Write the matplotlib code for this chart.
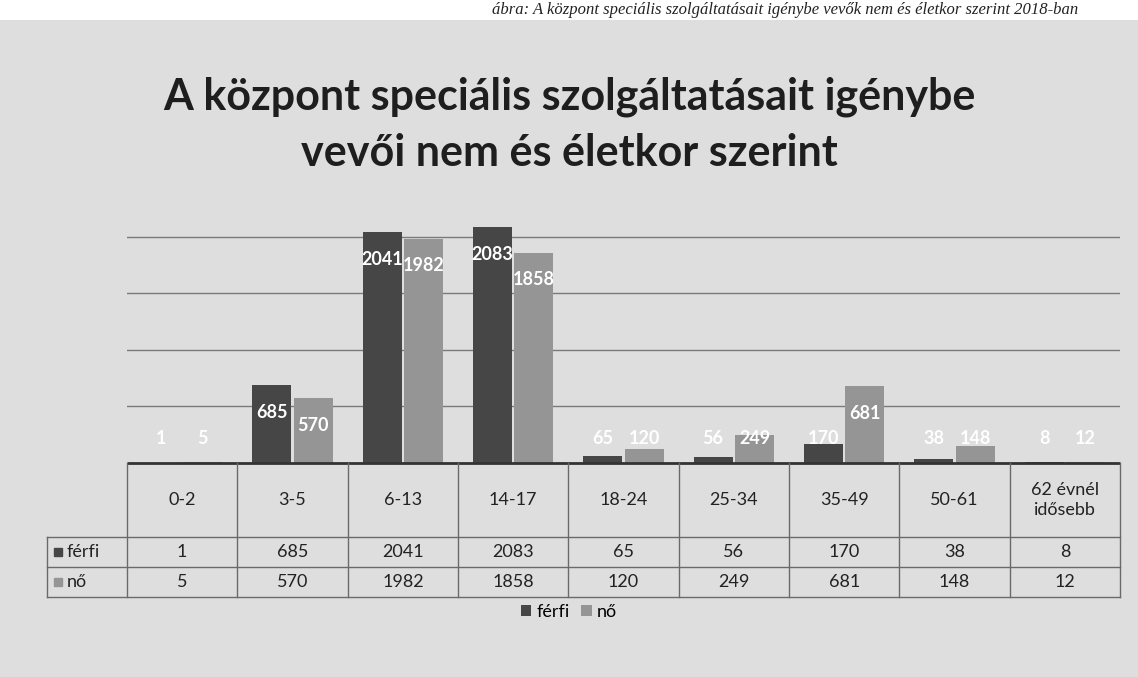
import numpy as np
import matplotlib
matplotlib.use('Agg')
import matplotlib.pyplot as plt
from matplotlib.patches import Patch, Rectangle

categories = ['0-2', '3-5', '6-13', '14-17', '18-24', '25-34', '35-49', '50-61',
              '62 évnél\nidősebb']
ferfi = [1, 685, 2041, 2083, 65, 56, 170, 38, 8]
no = [5, 570, 1982, 1858, 120, 249, 681, 148, 12]
series_names = ['férfi', 'nő']

title = 'A központ speciális szolgáltatásait igénybe\nvevői nem és életkor szerint'
caption = 'ábra: A központ speciális szolgáltatásait igénybe vevők nem és életkor szerint 2018-ban'

W, H = 1138, 677
BG = '#dedede'
C_F = '#464646'
C_N = '#959595'
LINE = '#6a6a6a'
FONT = 'Lato'

fig = plt.figure(figsize=(W / 100, H / 100), dpi=100)
fig.patch.set_facecolor('white')
fig.add_artist(Rectangle((0, 0), 1, (H - 20) / H, transform=fig.transFigure,
                         facecolor=BG, edgecolor='none', zorder=0))

# caption from the scanned page (cut off in the original)
fig.text(1078 / W, 1 - 2 / H, caption, ha='right', va='top',
         fontsize=12, style='italic', family='Liberation Serif', color='#222222')

fig.text(0.5, 1 - 97 / H, title.split('\n')[0], ha='center', va='center',
         fontsize=31, fontweight='bold', family=FONT, color='#1e1e1e')
fig.text(0.5, 1 - 153 / H, title.split('\n')[1], ha='center', va='center',
         fontsize=31, fontweight='bold', family=FONT, color='#1e1e1e')

# plot area
x0, x1 = 127, 1120
y_base, y_top = 463, 180
ax = fig.add_axes([x0 / W, (H - y_base) / H, (x1 - x0) / W, (y_base - y_top) / H])
ax.set_facecolor('none')
ax.set_xlim(-0.5, len(categories) - 0.5)
ax.set_ylim(0, 2500)
for s in ax.spines.values():
    s.set_visible(False)
ax.set_xticks([])
ax.set_yticks([500, 1000, 1500, 2000])
ax.tick_params(left=False, labelleft=False)
ax.grid(axis='y', color='#7a7a7a', lw=1)
ax.set_axisbelow(True)

x = np.arange(len(categories))
bw = 0.355
ax.bar(x - bw / 2 - 0.01, ferfi, bw, color=C_F, zorder=2)
ax.bar(x + bw / 2 + 0.01, no, bw, color=C_N, zorder=2)

for vals, dx in ((ferfi, -bw / 2 - 0.01), (no, bw / 2 + 0.01)):
    for xi, v in zip(x, vals):
        yl = max(v - 240, 220)
        ax.text(xi + dx, yl, str(v), ha='center', va='center', color='white',
                fontsize=13, fontweight='bold', family=FONT, zorder=3)

# data table
tl = 47
t_top, t_hdr, t_r1, t_bot = 463, 537, 567, 597
tab = fig.add_axes([tl / W, (H - t_bot) / H, (x1 - tl) / W, (t_bot - t_top) / H])
tab.set_facecolor('none')
step = (x1 - x0) / len(categories)
tab.set_xlim(-0.5 - (x0 - tl) / step, len(categories) - 0.5)
tab.set_ylim(t_bot, t_top)
tab.axis('off')

tab.plot([-0.5, len(categories) - 0.5], [t_top, t_top], color='#333333', lw=2,
         solid_capstyle='butt', clip_on=False)
for i in range(len(categories) + 1):
    tab.plot([i - 0.5, i - 0.5], [t_top, t_bot], color=LINE, lw=1, clip_on=False)
left = -0.5 - (x0 - tl) / step
tab.plot([left, left], [t_hdr, t_bot], color=LINE, lw=1, clip_on=False)
for yy in (t_hdr, t_r1, t_bot):
    tab.plot([left, len(categories) - 0.5], [yy, yy], color=LINE, lw=1, clip_on=False)

for xi, c in zip(x, categories):
    tab.text(xi, (t_top + t_hdr) / 2, c, ha='center', va='center', fontsize=13,
             family=FONT, color='#222222', linespacing=1.25)
for yy, vals in (((t_hdr + t_r1) / 2, ferfi), ((t_r1 + t_bot) / 2, no)):
    for xi, v in zip(x, vals):
        tab.text(xi, yy, str(v), ha='center', va='center', fontsize=13,
                 family=FONT, color='#222222')

for yy, name, col in (((t_hdr + t_r1) / 2, series_names[0], C_F),
                      ((t_r1 + t_bot) / 2, series_names[1], C_N)):
    tab.plot([left + 0.1], [yy], marker='s', ms=6, color=col, clip_on=False)
    tab.text(left + 0.18, yy, name, ha='left', va='center', fontsize=13,
             family=FONT, color='#222222')

handles = [Patch(facecolor=C_F, label=series_names[0]),
           Patch(facecolor=C_N, label=series_names[1])]
fig.legend(handles=handles, loc='center', bbox_to_anchor=(0.5, (H - 612) / H),
           ncol=2, frameon=False, handlelength=0.6, handleheight=0.6,
           handletextpad=0.3, columnspacing=0.6,
           prop={'family': FONT, 'size': 13})

fig.savefig('out.png', dpi=100)
